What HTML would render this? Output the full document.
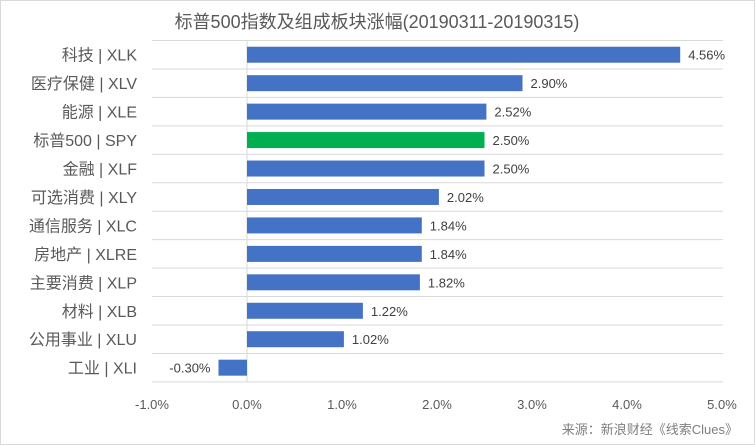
<!DOCTYPE html>
<html><head><meta charset="utf-8"><style>
body{margin:0;background:#fff}
svg{display:block;font-family:"Liberation Sans","Noto Sans CJK SC",sans-serif}
</style></head><body>
<svg id="chart" width="755" height="445">
<rect x="0.5" y="0.5" width="754" height="444" fill="#fff" stroke="#d9d9d9"/>
<text x="377" y="28" text-anchor="middle" font-size="18" fill="#595959">标普500指数及组成板块涨幅(20190311-20190315)</text>
<g id="plot"></g>
<text x="738" y="434" text-anchor="end" font-size="13" fill="#7f7f7f">来源：新浪财经《线索Clues》</text>
</svg>
<script>
const categories=["科技 | XLK","医疗保健 | XLV","能源 | XLE","标普500 | SPY","金融 | XLF","可选消费 | XLY","通信服务 | XLC","房地产 | XLRE","主要消费 | XLP","材料 | XLB","公用事业 | XLU","工业 | XLI"];
const values=[4.56,2.90,2.52,2.50,2.50,2.02,1.84,1.84,1.82,1.22,1.02,-0.30];
const highlight=["标普500 | SPY"];
const ticks=[-1,0,1,2,3,4,5];
const NS="http://www.w3.org/2000/svg";
const plotG=document.getElementById('plot');
const x0=247,sc=95,plotTop=40.5,rowH=28.45,barH=16;
const xs=v=>x0+v*sc, ys=i=>plotTop+i*rowH;
function el(t,a){const e=document.createElementNS(NS,t);for(const k in a)e.setAttribute(k,a[k]);plotG.appendChild(e);return e;}
for(let i=0;i<=categories.length;i++){
 const l=el('line',{x1:152,x2:723,y1:ys(i),y2:ys(i),stroke:'#d9d9d9'});
 
 
}
const ax=el('line',{x1:xs(0),x2:xs(0),y1:plotTop,y2:ys(categories.length),stroke:'#d9d9d9'});


categories.forEach((c,i)=>{
 const v=values[i],cy=ys(i)+rowH/2;
 const r=el('rect',{x:Math.min(xs(0),xs(v)),y:cy-barH/2,width:Math.abs(xs(v)-xs(0)),height:barH,fill:highlight.includes(c)?'#00b050':'#4472c4'});
 
 
 const lb=el('text',{x:137,y:cy+6,'text-anchor':'end','font-size':16,fill:'#595959'});
 lb.textContent=c;
 
 
 const vl=el('text',{x:v>=0?xs(v)+8:xs(v)-8,y:cy+5,'text-anchor':v>=0?'start':'end','font-size':13,fill:'#404040'});
 vl.textContent=v.toFixed(2)+'%';
 
 
});
ticks.forEach(t=>{
 const tl=el('text',{x:xs(t),y:409,'text-anchor':'middle','font-size':13,fill:'#595959'});
 tl.textContent=t.toFixed(1)+'%';
 
 
});
</script>
</body></html>
